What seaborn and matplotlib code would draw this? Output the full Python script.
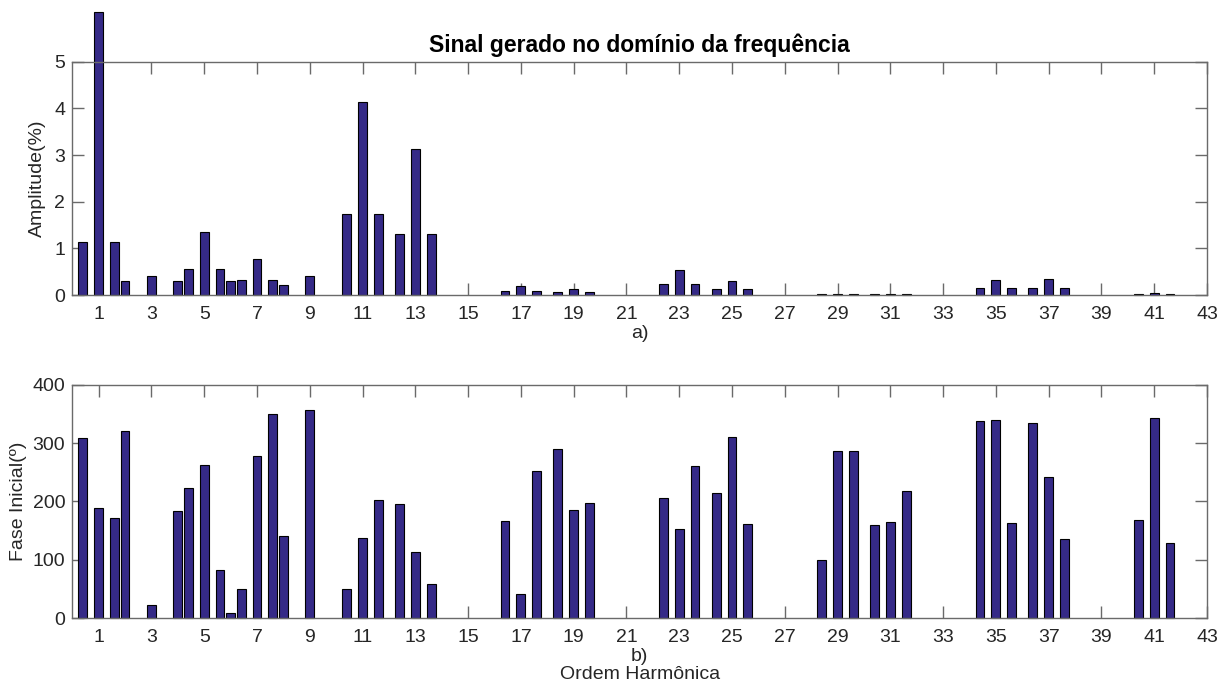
import numpy as np
import pandas as pd
import matplotlib
matplotlib.use("Agg")
import matplotlib.pyplot as plt
import seaborn as sns

# Harmonic / interharmonic orders
orders = [0.4, 1, 1.6, 2, 3, 4, 4.4, 5, 5.6, 6, 6.4, 7, 7.6, 8, 9,
          10.4, 11, 11.6, 12.4, 13, 13.6,
          16.4, 17, 17.6, 18.4, 19, 19.6,
          22.4, 23, 23.6, 24.4, 25, 25.6,
          28.4, 29, 29.6, 30.4, 31, 31.6,
          34.4, 35, 35.6, 36.4, 37, 37.6,
          40.4, 41, 41.6]

# Amplitude (%)
amplitude = [1.14, 6.07, 1.14, 0.31, 0.41, 0.31, 0.56, 1.35, 0.56, 0.31, 0.33, 0.77, 0.33, 0.21, 0.41,
             1.73, 4.14, 1.73, 1.31, 3.12, 1.31,
             0.08, 0.19, 0.08, 0.06, 0.12, 0.06,
             0.23, 0.54, 0.23, 0.12, 0.29, 0.12,
             0.015, 0.02, 0.015, 0.015, 0.02, 0.015,
             0.14, 0.33, 0.14, 0.14, 0.35, 0.14,
             0.015, 0.04, 0.015]

# Initial phase (degrees)
phase = [308, 188, 172, 320, 23, 183, 223, 263, 83, 8, 50, 277, 349, 140, 357,
         50, 138, 203, 195, 113, 58,
         167, 42, 252, 289, 185, 197,
         205, 152, 260, 214, 310, 162,
         100, 287, 287, 160, 165, 217,
         338, 340, 163, 334, 242, 135,
         168, 343, 128]

xticks = list(range(1, 44, 2))

sns.set_style("white")
plt.rcParams['font.family'] = ['Liberation Sans', 'DejaVu Sans']

df = pd.DataFrame({"ordem": orders, "amp": amplitude, "fase": phase})

fig = plt.figure(figsize=(12.27, 6.88), dpi=100)
ax1 = fig.add_axes([0.0589, 0.5712, 0.9248, 0.3391])
ax2 = fig.add_axes([0.0589, 0.1017, 0.9248, 0.3391])

bar_color = "#352A87"
axis_col = "#6a6a6a"
text_col = "#262626"
fs = 14

for ax, col, ylim, yt in [(ax1, "amp", (0, 5), range(0, 6)),
                          (ax2, "fase", (0, 400), range(0, 401, 100))]:
    sns.barplot(data=df, x="ordem", y=col, native_scale=True, width=0.84,
                color=bar_color, saturation=1, edgecolor="black",
                linewidth=0.8, errorbar=None, ax=ax)
    for p in ax.patches:
        p.set_clip_on(False)
    ax.set_xlim(0, 43)
    ax.set_ylim(*ylim)
    ax.set_xticks(xticks)
    ax.set_xticklabels([str(t) for t in xticks])
    ax.set_yticks(list(yt))
    ax.tick_params(axis="both", direction="in", length=8.5, width=1,
                   color=axis_col, labelcolor=text_col, labelsize=fs,
                   top=True, right=True, bottom=True, left=True)
    ax.tick_params(axis="x", pad=8)
    ax.tick_params(axis="y", pad=5)
    for s in ax.spines.values():
        s.set_visible(True)
        s.set_color(axis_col)
        s.set_linewidth(1)

ax1.set_ylabel("Amplitude(%)", fontsize=fs, color=text_col, labelpad=6)
ax1.set_xlabel("a)", fontsize=fs, color=text_col, labelpad=1)
ax1.set_title("Sinal gerado no domínio da frequência", fontsize=16.5,
              fontweight="bold", color="black", pad=7)
ax2.set_ylabel("Fase Inicial(º)", fontsize=fs, color=text_col, labelpad=4)
ax2.set_xlabel("b)\nOrdem Harmônica", fontsize=fs, color=text_col, labelpad=1,
               linespacing=1.15)

fig.savefig("out.png", dpi=100)
